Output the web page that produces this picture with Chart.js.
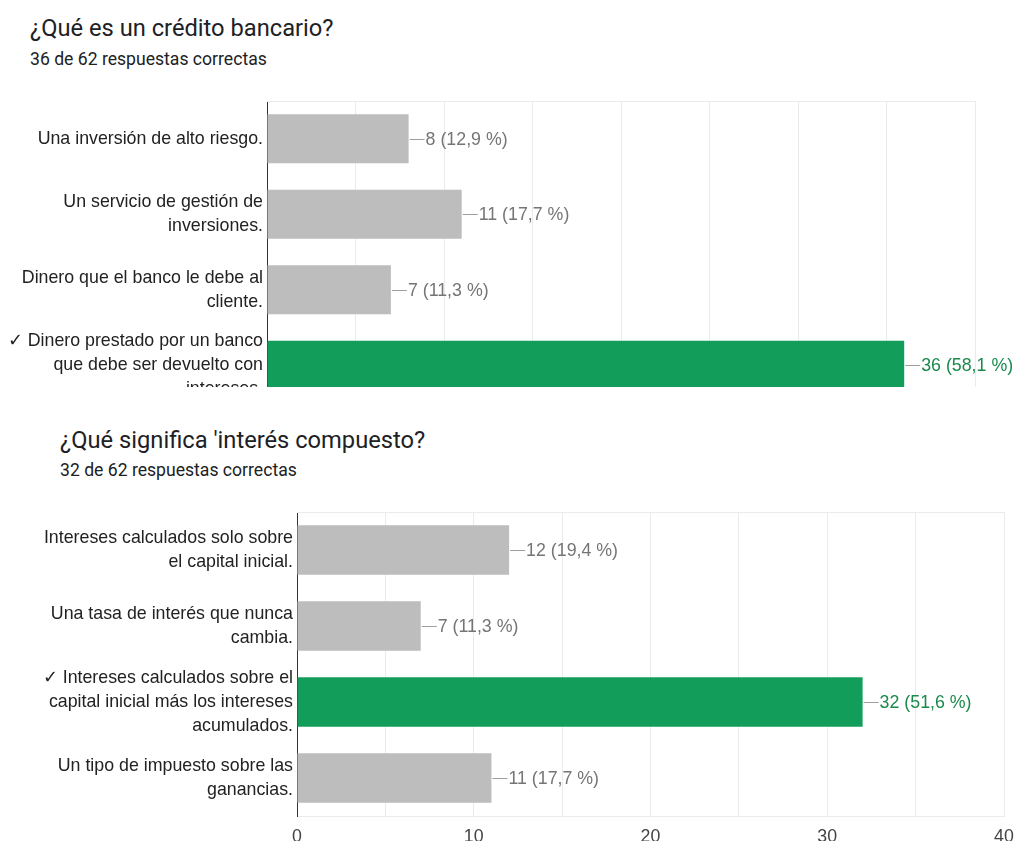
<!DOCTYPE html>
<html>
<head>
<meta charset="utf-8">
<script src="https://cdn.jsdelivr.net/npm/chart.js@4/dist/chart.umd.min.js"></script>
<style>
  html, body { margin:0; padding:0; background:#fff; width:1015px; height:841px; overflow:hidden; }
  .t { position:absolute; font-family: Roboto, "Noto Sans", sans-serif; color:#202124; white-space:nowrap; }
  .title { font-size:23.7px; line-height:30px; }
  .sub { font-size:17.6px; line-height:20px; }
  #w1 { position:absolute; left:0; top:0; width:1015px; height:387px; overflow:hidden; }
  #w2 { position:absolute; left:0; top:410px; width:1015px; height:431px; overflow:hidden; }
</style>
</head>
<body>
<div class="t title" style="left:30px; top:13px;">¿Qué es un crédito bancario?</div>
<div class="t sub" style="left:30px; top:49px;">36 de 62 respuestas correctas</div>
<div class="t title" style="left:60px; top:425px;">¿Qué significa 'interés compuesto?</div>
<div class="t sub" style="left:60px; top:460px;">32 de 62 respuestas correctas</div>
<div id="w1"><canvas id="c1"></canvas></div>
<div id="w2"><canvas id="c2"></canvas></div>
<script>
// ---- data ----
const categories1 = [
  ["Una inversión de alto riesgo."],
  ["Un servicio de gestión de", "inversiones."],
  ["Dinero que el banco le debe al", "cliente."],
  ["✓ Dinero prestado por un banco", "que debe ser devuelto con", "intereses."]
];
const values1 = [8, 11, 7, 36];
const percents1 = [12.9, 17.7, 11.3, 58.1];
const correct1 = [false, false, false, true];

const categories2 = [
  ["Intereses calculados solo sobre", "el capital inicial."],
  ["Una tasa de interés que nunca", "cambia."],
  ["✓ Intereses calculados sobre el", "capital inicial más los intereses", "acumulados."],
  ["Un tipo de impuesto sobre las", "ganancias."]
];
const values2 = [12, 7, 32, 11];
const percents2 = [19.4, 11.3, 51.6, 17.7];
const correct2 = [false, false, true, false];

const xTicks = [0, 10, 20, 30, 40];

// ---- styles ----
const GREY = '#bdbdbd', GREEN = '#129e5a';
const GRID = '#ebebeb';
const FONT = '"Liberation Sans", Arial, sans-serif';
const FS = 17.8;

const valueLabels = {
  id: 'valueLabels',
  afterDatasetsDraw(chart, args, opts) {
    const ctx = chart.ctx;
    const meta = chart.getDatasetMeta(0);
    ctx.save();
    ctx.font = FS + 'px ' + FONT;
    ctx.textBaseline = 'middle';
    meta.data.forEach((bar, i) => {
      const x = bar.x, y = bar.y;
      ctx.strokeStyle = '#9e9e9e';
      ctx.lineWidth = 1;
      ctx.beginPath();
      ctx.moveTo(x + 1, Math.round(y) + 0.5);
      ctx.lineTo(x + 16, Math.round(y) + 0.5);
      ctx.stroke();
      ctx.fillStyle = opts.correct[i] ? '#1a8a4c' : '#757575';
      const txt = opts.values[i] + ' (' + opts.percents[i].toFixed(1).replace('.', ',') + ' %)';
      ctx.fillText(txt, x + 17, y + 1);
    });
    ctx.restore();
  }
};

const frame = {
  id: 'frame',
  beforeDatasetsDraw(chart) {
    const a = chart.chartArea, ctx = chart.ctx;
    ctx.save();
    ctx.strokeStyle = GRID;
    ctx.lineWidth = 1;
    ctx.beginPath();
    ctx.moveTo(a.left, Math.round(a.top) + 0.5);
    ctx.lineTo(a.right, Math.round(a.top) + 0.5);
    ctx.stroke();
    ctx.restore();
  }
};

function makeChart(id, cats, vals, pcts, corr, pad, yWidth, xHeight, canvasH) {
  const canvas = document.getElementById(id);
  canvas.style.width = '1015px';
  canvas.style.height = canvasH + 'px';
  canvas.width = 1015; canvas.height = canvasH;
  return new Chart(canvas, {
    type: 'bar',
    data: {
      labels: cats,
      datasets: [{
        data: vals,
        backgroundColor: corr.map(c => c ? GREEN : GREY),
        borderWidth: 0,
        barPercentage: 0.65,
        categoryPercentage: 1
      }]
    },
    options: {
      indexAxis: 'y',
      responsive: false,
      animation: false,
      events: [],
      layout: { padding: pad },
      plugins: {
        legend: { display: false },
        tooltip: { enabled: false },
        valueLabels: { values: vals, percents: pcts, correct: corr }
      },
      scales: {
        x: {
          min: 0, max: 40,
          ticks: {
            stepSize: 5,
            color: '#444',
            font: { family: FONT, size: FS },
            padding: 10,
            maxRotation: 0,
            autoSkip: false,
            callback: v => (xTicks.includes(v) ? String(v) : '')
          },
          grid: { color: GRID, drawTicks: false },
          border: { color: GRID },
          afterFit(s) { s.height = xHeight; s.paddingLeft = 0; s.paddingRight = 0; }
        },
        y: {
          ticks: {
            color: '#222',
            font: { family: FONT, size: FS, lineHeight: 24 / FS },
            padding: 4
          },
          grid: { display: false, drawTicks: false },
          border: { color: '#333', width: 1 },
          afterFit(s) { s.width = yWidth; s.paddingTop = 0; s.paddingBottom = 0; }
        }
      }
    },
    plugins: [frame, valueLabels]
  });
}

// chart 1: plot area left 267, top 101, right 975, bottom 403 (clipped at 387)
makeChart('c1', categories1, values1, percents1, correct1,
  { top: 101, right: 40, left: 0, bottom: 0 }, 267, 37, 440);
// chart 2: plot area (page) left 297, top 512, right 1004, bottom 816
makeChart('c2', categories2, values2, percents2, correct2,
  { top: 102, right: 11, left: 0, bottom: 0 }, 297, 25, 431);
</script>
</body>
</html>
